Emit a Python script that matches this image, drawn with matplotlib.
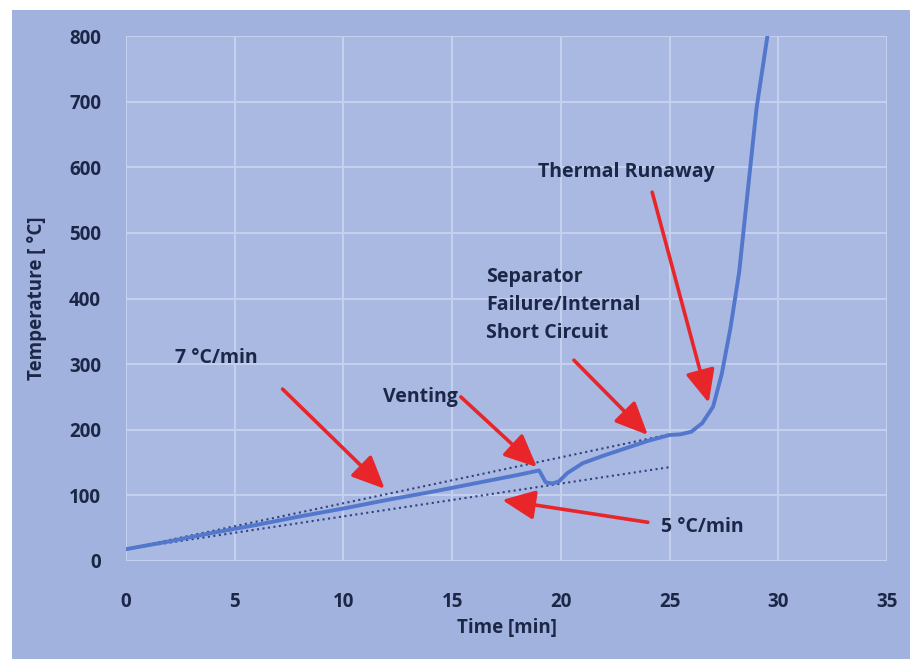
import matplotlib
matplotlib.use("Agg")
import matplotlib.pyplot as plt
from matplotlib.patches import Rectangle

plt.rcParams['font.family'] = ['Open Sans', 'DejaVu Sans']
plt.rcParams['font.weight'] = 'bold'

# measured cell temperature during the abuse test
time = [0, 2, 4, 6, 8, 10, 12, 14, 16, 18, 19, 19.3, 19.6, 19.9, 20.3, 21,
        22, 23, 24, 25, 25.5, 26, 26.5, 27, 27.4, 27.8, 28.2, 28.6, 29.0, 29.5]
temp = [18, 30, 43, 55, 68, 80, 93, 105, 118, 131, 138, 120, 118, 121, 134, 149,
        161, 172, 183, 192, 193, 197, 210, 235, 285, 355, 440, 565, 690, 800]

# heating rate reference lines
rate_time = [0, 25]
rate7 = [18, 193]
rate5 = [18, 143]

xticks = [0, 5, 10, 15, 20, 25, 30, 35]
yticks = [0, 100, 200, 300, 400, 500, 600, 700, 800]

# (text, text x, text y, arrow tail, arrow head)
notes = [
    ("7 °C/min", 2.25, 309, (7.2, 262), (11.9, 110)),
    ("Venting", 11.8, 250, (15.4, 250), (18.9, 143)),
    ("Separator\nFailure/Internal\nShort Circuit", 16.55, 390, (20.6, 306), (24.0, 192)),
    ("Thermal Runaway", 18.95, 593, (24.2, 562), (26.8, 241)),
    ("5 °C/min", 24.6, 52, (24.0, 59), (17.3, 93)),
]

bg = "#a2b2de"
txt = "#1c2747"
red = "#e8262a"

fig = plt.figure(figsize=(9.1, 6.59), dpi=100, facecolor=bg)
# white margin of the screenshot
fig.add_artist(Rectangle((0, 0), 12 / 910, 1, transform=fig.transFigure,
                         facecolor="white", edgecolor="none", zorder=-5))
fig.add_artist(Rectangle((0, 1 - 10 / 659), 1, 10 / 659, transform=fig.transFigure,
                         facecolor="white", edgecolor="none", zorder=-5))

ax = fig.add_axes([126 / 910, 1 - 561 / 659, 761 / 910, 525 / 659])
ax.set_facecolor("#a9b9e2")
for s in ax.spines.values():
    s.set_visible(False)

ax.set_xlim(0, 35)
ax.set_ylim(0, 800)
ax.set_xticks(xticks)
ax.set_yticks(yticks)
ax.grid(True, color="#c6d1ef", lw=1.4)
ax.set_axisbelow(True)
ax.tick_params(length=0, labelsize=13.5, labelcolor=txt)
ax.tick_params(axis="x", pad=22)
ax.tick_params(axis="y", pad=18)

ax.plot(rate_time, rate7, ls=":", color="#2e4280", lw=1.5)
ax.plot(rate_time, rate5, ls=":", color="#2e4280", lw=1.5)
ax.plot(time, temp, color="#5277cc", lw=2.8)

for label, tx, ty, tail, head in notes:
    ax.text(tx, ty, label, fontsize=14, color=txt, ha="left", va="center",
            linespacing=1.55)
    ax.annotate("", xy=head, xytext=tail,
                arrowprops=dict(arrowstyle="-|>,head_length=1.0,head_width=0.45",
                                color=red, lw=2.6, mutation_scale=20,
                                shrinkA=0, shrinkB=0))

ax.set_xlabel("Time [min]", fontsize=13.5, color=txt, fontweight="bold")
ax.set_ylabel("Temperature [ °C]", fontsize=13.5, color=txt, fontweight="bold")
ax.xaxis.set_label_coords(0.5, -0.108)
ax.yaxis.set_label_coords(-0.104, 0.5)

fig.savefig("out.png", dpi=100, facecolor=fig.get_facecolor())
